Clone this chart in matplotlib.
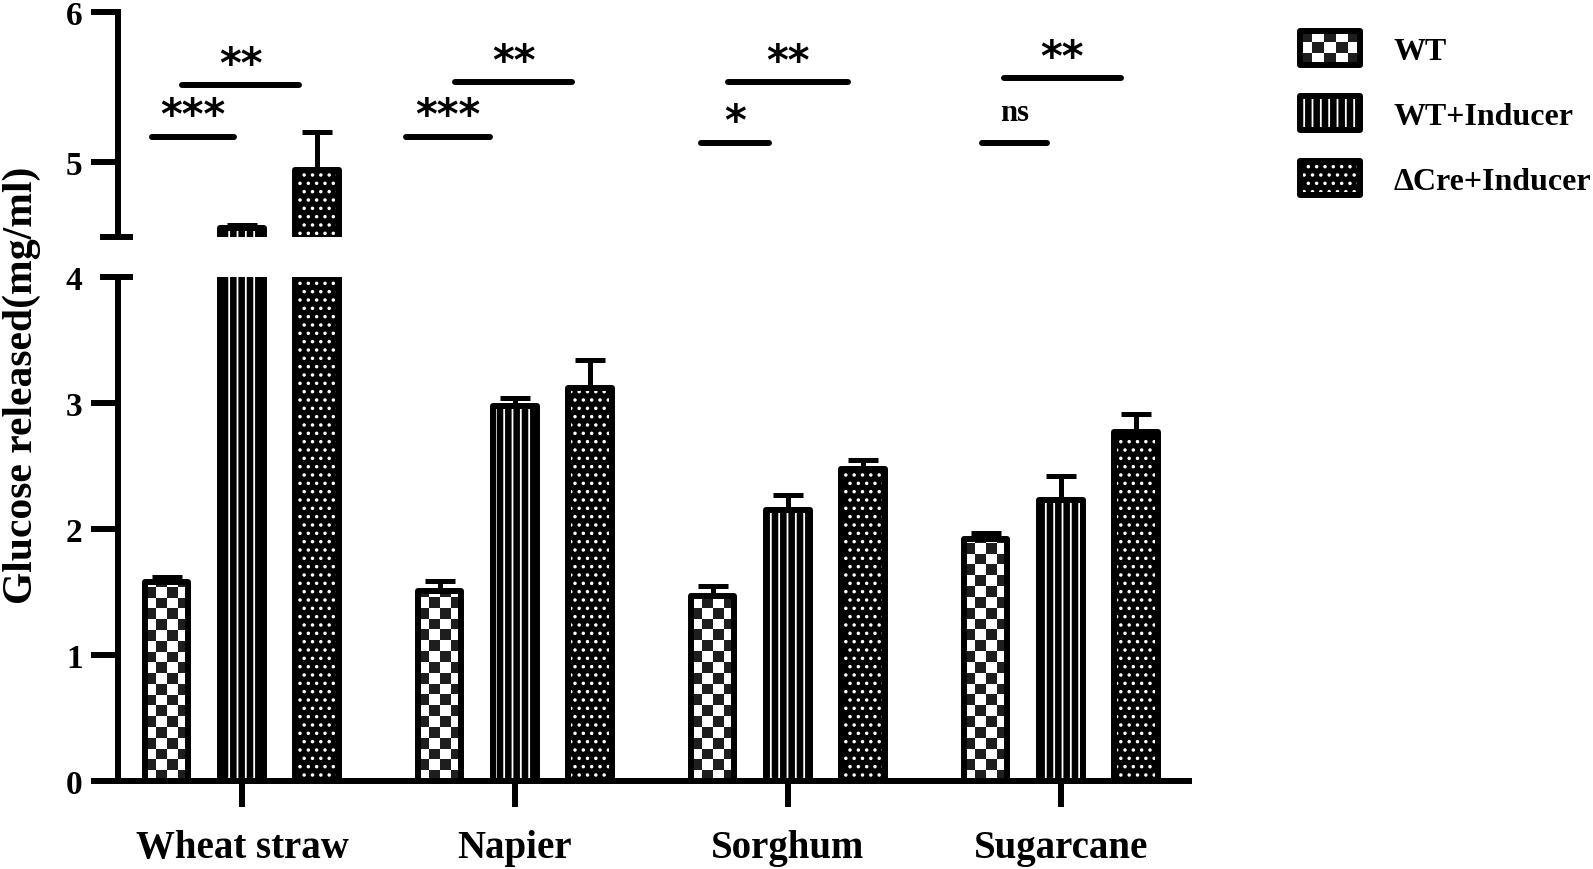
import numpy as np
import matplotlib
matplotlib.use("Agg")
import matplotlib.pyplot as plt
from matplotlib.colors import ListedColormap
from matplotlib.legend_handler import HandlerBase
from matplotlib.patches import Rectangle

substrates = ["Wheat straw", "Napier", "Sorghum", "Sugarcane"]
strains = ["WT", "WT+Inducer", "\u0394Cre+Inducer"]

wt = [1.58, 1.51, 1.47, 1.92]
wt_err = [0.04, 0.08, 0.08, 0.05]
wt_ind = [4.56, 2.98, 2.15, 2.23]
wt_ind_err = [0.02, 0.06, 0.12, 0.19]
cre_ind = [4.95, 3.12, 2.48, 2.77]
cre_ind_err = [0.25, 0.22, 0.07, 0.14]

# significance: WT vs WT+Inducer (low) and WT+Inducer vs dCre+Inducer (high)
sig_low = ["***", "***", "*", "ns"]
sig_high = ["**", "**", "**", "**"]

# where the significance bars sit (y value, x span around group centre)
low_y = [5.17, 5.17, 5.13, 5.13]
high_y = [5.51, 5.53, 5.53, 5.56]
low_span = [(-0.33, -0.03), (-0.40, -0.09), (-0.32, -0.07), (-0.29, -0.05)]
high_span = [(-0.22, 0.21), (-0.22, 0.21), (-0.22, 0.22), (-0.21, 0.22)]

plt.rcParams["font.family"] = ["Liberation Serif", "DejaVu Serif"]
plt.rcParams["font.weight"] = "bold"
plt.rcParams["hatch.linewidth"] = 1.3

LW = 4.3
DARK = "#1e1e1e"
checker_cmap = ListedColormap(["white", DARK])

series = [wt, wt_ind, cre_ind]
errors = [wt_err, wt_ind_err, cre_ind_err]
fill_styles = [
    dict(facecolor="white", linewidth=0),
    dict(facecolor="black", edgecolor="white", hatch="||", linewidth=0),
    dict(facecolor="black", edgecolor="white", hatch="..", linewidth=0),
]
x = np.arange(len(substrates))
offsets = [-0.275, 0.0, 0.275]
width = 0.158

fig = plt.figure(figsize=(15.93, 8.70), dpi=100)
ax_hi = fig.add_axes([0.0741, 0.7264, 0.6723, 0.2587])
ax_lo = fig.add_axes([0.0741, 0.1011, 0.6723, 0.5793])

ax_hi.set_ylim(4.5, 6)
ax_lo.set_ylim(0, 4)
for ax in (ax_hi, ax_lo):
    ax.set_xlim(-0.454, 3.469)


def add_checker(ax, rect, ncols=4):
    x0, w, h = rect.get_x(), rect.get_width(), rect.get_height()
    p0 = ax.transData.transform((x0, 0))
    p1 = ax.transData.transform((x0 + w, 1))
    cell_px = (p1[0] - p0[0]) / ncols
    cell_y = cell_px / (p1[1] - p0[1])
    nrows = int(np.ceil(h / cell_y))
    img = np.add.outer(np.arange(nrows), np.arange(ncols)) % 2
    im = ax.imshow(img, extent=(x0, x0 + w, 0, nrows * cell_y), origin="lower",
                   cmap=checker_cmap, interpolation="nearest", aspect="auto", zorder=1.5)
    # clip to the bar outline but keep the axes clip box
    im.set_clip_path(rect.get_path(), rect.get_transform())


def draw_bars(ax):
    for k in range(3):
        xs = x + offsets[k]
        fill = ax.bar(xs, series[k], width, zorder=1, **fill_styles[k])
        if k == 0:
            for rect in fill:
                add_checker(ax, rect)
        ax.errorbar(xs, series[k], yerr=[np.zeros(len(xs)), errors[k]], fmt="none",
                    ecolor="black", elinewidth=3.6, capsize=10.5, capthick=3.6, zorder=2)
        ax.bar(xs, series[k], width, fill=False, edgecolor="black", linewidth=LW,
               joinstyle="round", zorder=3)


draw_bars(ax_hi)
draw_bars(ax_lo)
ax_hi.set_ylim(4.5, 6)
ax_lo.set_ylim(0, 4)

# axes styling
for s in ["top", "right", "bottom"]:
    ax_hi.spines[s].set_visible(False)
for s in ["top", "right"]:
    ax_lo.spines[s].set_visible(False)
for ax in (ax_hi, ax_lo):
    for s in ["left", "bottom"]:
        ax.spines[s].set_linewidth(LW)
        ax.spines[s].set_capstyle("projecting")
    ax.tick_params(axis="y", direction="out", length=19.5, width=LW, pad=6, labelsize=24)

ax_hi.set_xticks([])
ax_hi.set_yticks([5, 6])
ax_lo.set_yticks([0, 1, 2, 3, 4])
ax_lo.yaxis.get_major_ticks()[-1].tick1line.set_visible(False)
ax_lo.set_xticks(x)
ax_lo.set_xticklabels(substrates)
ax_lo.tick_params(axis="x", direction="out", length=18.5, width=LW, pad=16, labelsize=28)

# broken-axis marks
ax_hi.plot([-0.0168, 0.014], [4.5, 4.5], transform=ax_hi.get_yaxis_transform(),
           color="black", lw=LW, clip_on=False, solid_capstyle="butt")
ax_lo.plot([-0.0168, 0.014], [4, 4], transform=ax_lo.get_yaxis_transform(),
           color="black", lw=LW, clip_on=False, solid_capstyle="butt")

# significance bars
for i in range(len(substrates)):
    for yv, span, mark in [(low_y[i], low_span[i], sig_low[i]),
                           (high_y[i], high_span[i], sig_high[i])]:
        x0, x1 = x[i] + span[0], x[i] + span[1]
        ax_hi.plot([x0, x1], [yv, yv], color="black", lw=LW,
                   solid_capstyle="round", clip_on=False)
        if mark == "ns":
            ax_hi.text((x0 + x1) / 2, yv + 0.15, mark, ha="center", va="baseline",
                       fontsize=22, fontweight="bold")
        else:
            ax_hi.text((x0 + x1) / 2, yv + 0.055, mark, ha="center", va="baseline",
                       fontsize=30, fontweight="bold", family="DejaVu Sans")

fig.text(0.0138, 0.557, "Glucose released(mg/ml)", rotation=90, ha="center",
         va="center", fontsize=30, fontweight="bold")


class BoxHandler(HandlerBase):
    def __init__(self, style, checker=False):
        super().__init__()
        self.style = style
        self.checker = checker

    def create_artists(self, legend, orig_handle, xdescent, ydescent, width, height,
                       fontsize, trans):
        x0, y0 = -xdescent, -ydescent
        arts = [Rectangle((x0, y0), width, height, transform=trans, **self.style)]
        if self.checker:
            nc, nr = 5, 3
            for i in range(nr):
                for j in range(nc):
                    if (i + j) % 2 == 0:
                        arts.append(Rectangle((x0 + j * width / nc, y0 + i * height / nr),
                                              width / nc, height / nr, facecolor=DARK,
                                              linewidth=0, transform=trans))
        arts.append(Rectangle((x0, y0), width, height, fill=False, edgecolor="black",
                              linewidth=LW, joinstyle="round", transform=trans))
        return arts


handles = [Rectangle((0, 0), 1, 1) for _ in strains]
handler_map = {h: BoxHandler(fill_styles[k], checker=(k == 0)) for k, h in enumerate(handles)}
fig.legend(handles, strains, handler_map=handler_map, loc="upper left",
           bbox_to_anchor=(0.808, 0.978), frameon=False, fontsize=23,
           handlelength=1.88, handleheight=1.25, handletextpad=1.05, labelspacing=0.95,
           borderpad=0.4, borderaxespad=0)

fig.savefig("out.png", dpi=100)
